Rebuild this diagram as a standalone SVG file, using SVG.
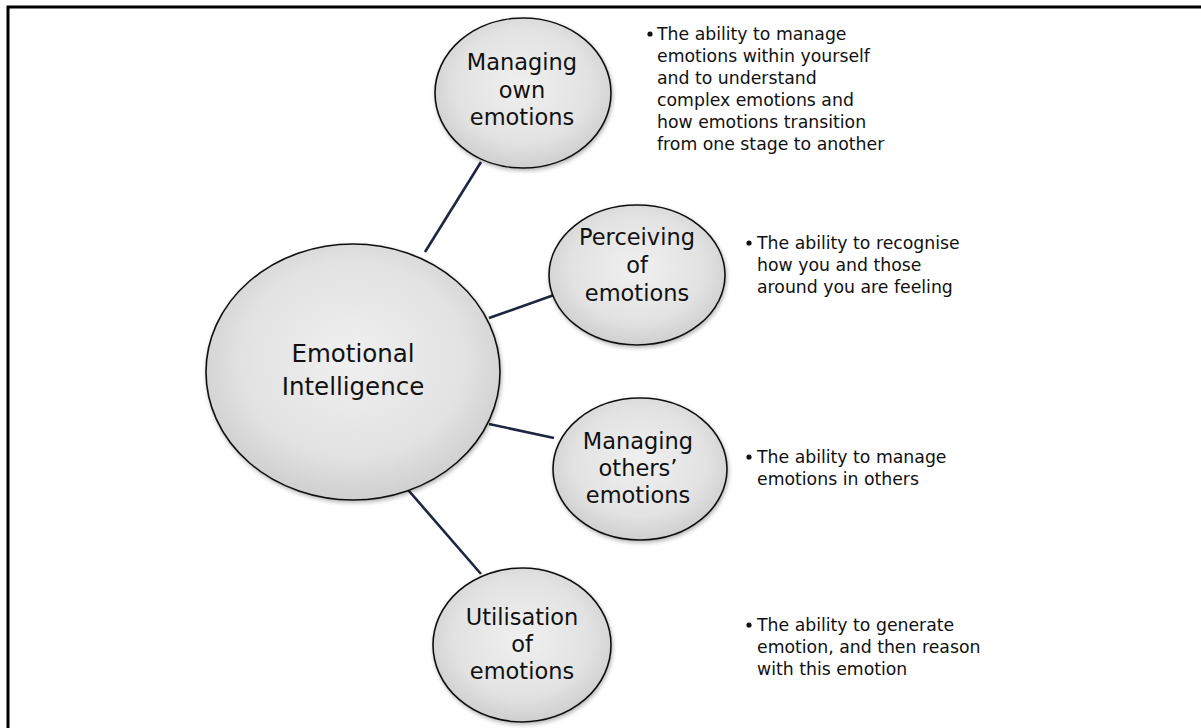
<svg xmlns="http://www.w3.org/2000/svg" width="1201" height="728" viewBox="0 0 1201 728">
<defs>
<radialGradient id="g" cx="50%" cy="45%" r="55%">
<stop offset="0" stop-color="#f0f0f0"/>
<stop offset="0.7" stop-color="#e2e2e2"/>
<stop offset="1" stop-color="#cfcfcf"/>
</radialGradient>
<filter id="sh" x="-10%" y="-10%" width="125%" height="125%">
<feGaussianBlur in="SourceAlpha" stdDeviation="2"/>
<feOffset dx="1" dy="2" result="b"/>
<feComponentTransfer><feFuncA type="linear" slope="0.3"/></feComponentTransfer>
<feMerge><feMergeNode/><feMergeNode in="SourceGraphic"/></feMerge>
</filter>
</defs>
<style>
.c{fill:url(#g);stroke:#111;stroke-width:1.6;filter:url(#sh)}
.t{font-family:"DejaVu Sans","Liberation Sans",sans-serif;font-size:22.5px;fill:#111;text-anchor:middle}
.tc{font-family:"DejaVu Sans","Liberation Sans",sans-serif;font-size:24.5px;fill:#111;text-anchor:middle}
.b{font-family:"DejaVu Sans","Liberation Sans",sans-serif;font-size:17.3px;fill:#111}
.d{fill:#111}
.l{stroke:#1e2540;stroke-width:2.6;fill:none}
</style>
<rect width="1201" height="728" fill="#fff"/>
<path d="M8 740 V7 H1210" fill="none" stroke="#000" stroke-width="3"/>
<g id="connectors">
<line class="l" x1="425" y1="252" x2="481" y2="162"/>
<line class="l" x1="489" y1="318" x2="554" y2="295"/>
<line class="l" x1="489" y1="424" x2="554" y2="438"/>
<line class="l" x1="403" y1="484" x2="481" y2="574"/>
</g>
<g id="emotional-intelligence">
<ellipse class="c" cx="353" cy="372" rx="147" ry="128"/>
<text class="tc" x="353" y="362">Emotional</text>
<text class="tc" x="353" y="395">Intelligence</text>
</g>
<g id="managing-own">
<ellipse class="c" cx="523" cy="93" rx="88" ry="75"/>
<text class="t" x="522" y="70">Managing</text>
<text class="t" x="522" y="97.5">own</text>
<text class="t" x="522" y="125">emotions</text>
</g>
<g id="perceiving">
<ellipse class="c" cx="637" cy="275" rx="88" ry="70"/>
<text class="t" x="637" y="245">Perceiving</text>
<text class="t" x="637" y="273">of</text>
<text class="t" x="637" y="301">emotions</text>
</g>
<g id="managing-others">
<ellipse class="c" cx="640" cy="469" rx="87" ry="71"/>
<text class="t" x="638" y="449">Managing</text>
<text class="t" x="638" y="476">others’</text>
<text class="t" x="638" y="503">emotions</text>
</g>
<g id="utilisation">
<ellipse class="c" cx="522" cy="645" rx="89" ry="77"/>
<text class="t" x="522" y="625">Utilisation</text>
<text class="t" x="522" y="652">of</text>
<text class="t" x="522" y="679">emotions</text>
</g>
<g id="desc-managing-own">
<circle class="d" cx="650" cy="34" r="2.6"/>
<text class="b" x="657" y="40">The ability to manage</text>
<text class="b" x="657" y="62">emotions within yourself</text>
<text class="b" x="657" y="84">and to understand</text>
<text class="b" x="657" y="106">complex emotions and</text>
<text class="b" x="657" y="128">how emotions transition</text>
<text class="b" x="657" y="150">from one stage to another</text>
</g>
<g id="desc-perceiving">
<circle class="d" cx="749" cy="243" r="2.6"/>
<text class="b" x="757" y="249">The ability to recognise</text>
<text class="b" x="757" y="271">how you and those</text>
<text class="b" x="757" y="293">around you are feeling</text>
</g>
<g id="desc-managing-others">
<circle class="d" cx="749" cy="457" r="2.6"/>
<text class="b" x="757" y="463">The ability to manage</text>
<text class="b" x="757" y="485">emotions in others</text>
</g>
<g id="desc-utilisation">
<circle class="d" cx="749" cy="625" r="2.6"/>
<text class="b" x="757" y="631">The ability to generate</text>
<text class="b" x="757" y="653">emotion, and then reason</text>
<text class="b" x="757" y="675">with this emotion</text>
</g>
</svg>
